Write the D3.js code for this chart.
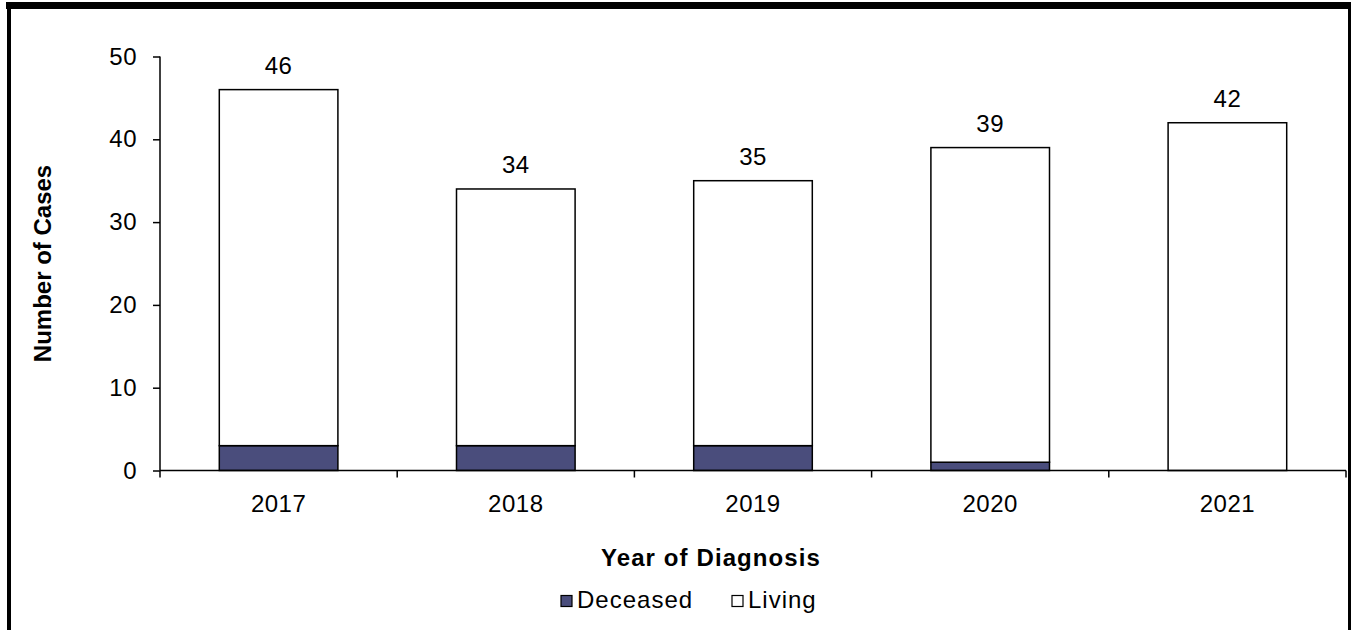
<!DOCTYPE html>
<html><head><meta charset="utf-8">
<script src="https://cdn.jsdelivr.net/npm/d3@7"></script>
<style>body{margin:0;background:#fff}svg{display:block}text{font-family:"Liberation Sans",Arial,sans-serif}</style>
</head><body><svg id="c" width="1351" height="630"></svg>
<script>
const years = ["2017","2018","2019","2020","2021"];
const deceased = [3,3,3,1,0];
const living = [43,31,32,38,42];
const yTicks = [0,10,20,30,40,50];
const seriesNames = ["Deceased","Living"];
const colors = ["#4a4d7c","#ffffff"];

const svg = d3.select("#c");
const FS = 24;
const m = {l:160, r:1346, t:56.5, b:470.5};
const x = d3.scaleBand().domain(years).range([m.l,m.r]).paddingInner(0.5).paddingOuter(0.25);
const xAxisBand = d3.scaleBand().domain(years).range([m.l,m.r]);
const y = d3.scaleLinear().domain([0,50]).range([m.b,m.t]);

// frame
svg.append("rect").attr("x",6).attr("y",2).attr("width",1345).attr("height",7).attr("fill","#000");
svg.append("rect").attr("x",7).attr("y",2).attr("width",4).attr("height",628).attr("fill","#000");
svg.append("rect").attr("x",1348).attr("y",2).attr("width",3).attr("height",628).attr("fill","#000");

const rows = years.map((yr,i)=>({yr, d:deceased[i], l:living[i]}));
const stack = d3.stack().keys(["d","l"])(rows);

stack.forEach((s,si)=>{
  svg.append("g").selectAll("rect").data(s).join("rect")
    .attr("x",d=>x(d.data.yr)).attr("width",x.bandwidth())
    .attr("y",d=>y(d[1])).attr("height",d=>y(d[0])-y(d[1]))
    .attr("fill",colors[si]).attr("stroke","#000").attr("stroke-width",1.5);
});

// totals
svg.append("g").selectAll("text").data(rows).join("text")
  .attr("x",d=>x(d.yr)+x.bandwidth()/2).attr("y",d=>y(d.d+d.l)-15.5)
  .attr("text-anchor","middle").attr("font-size",FS).attr("letter-spacing",0.5).text(d=>d.d+d.l);

// y axis
const ya = svg.append("g").attr("transform",`translate(${m.l},0)`)
  .call(d3.axisLeft(y).tickValues(yTicks).tickSize(7).tickPadding(16));
ya.select(".domain").attr("stroke","#000").attr("stroke-width",1.5).attr("d",`M0,${m.t}V${m.b}`);
ya.selectAll(".tick line").attr("stroke-width",1.5);
ya.selectAll("text").attr("font-size",FS).attr("font-family","Liberation Sans, Arial").attr("fill","#000").attr("letter-spacing",0.5);

// x axis
const xa = svg.append("g").attr("transform",`translate(0,${m.b})`);
xa.append("path").attr("d",`M${m.l},0H${m.r}`).attr("stroke","#000").attr("stroke-width",1.5);
const tickPos = years.map(v=>xAxisBand(v)).concat([m.r]);
xa.selectAll("line").data(tickPos).join("line")
  .attr("x1",d=>d).attr("x2",d=>d).attr("y1",0).attr("y2",7).attr("stroke","#000").attr("stroke-width",1.5);
xa.selectAll("text").data(years).join("text")
  .attr("x",d=>xAxisBand(d)+xAxisBand.bandwidth()/2).attr("y",41)
  .attr("text-anchor","middle").attr("font-size",FS).attr("letter-spacing",0.5).text(d=>d);

// axis titles
svg.append("text").attr("x",711).attr("y",566).attr("text-anchor","middle")
  .attr("font-size",FS).attr("font-weight","bold").attr("letter-spacing",1.1).text("Year of Diagnosis");
svg.append("text").attr("transform",`translate(51,263.5) rotate(-90)`).attr("text-anchor","middle")
  .attr("font-size",FS).attr("font-weight","bold").text("Number of Cases");

// legend
const leg = svg.append("g");
const legX = [561, 732];
seriesNames.forEach((n,i)=>{
  leg.append("rect").attr("x",legX[i]).attr("y",595.5).attr("width",11).attr("height",11)
    .attr("fill",colors[i]).attr("stroke","#000").attr("stroke-width",1.2);
  leg.append("text").attr("x",legX[i]+16).attr("y",608).attr("font-size",FS).attr("letter-spacing",1).text(n);
});
</script></body></html>
